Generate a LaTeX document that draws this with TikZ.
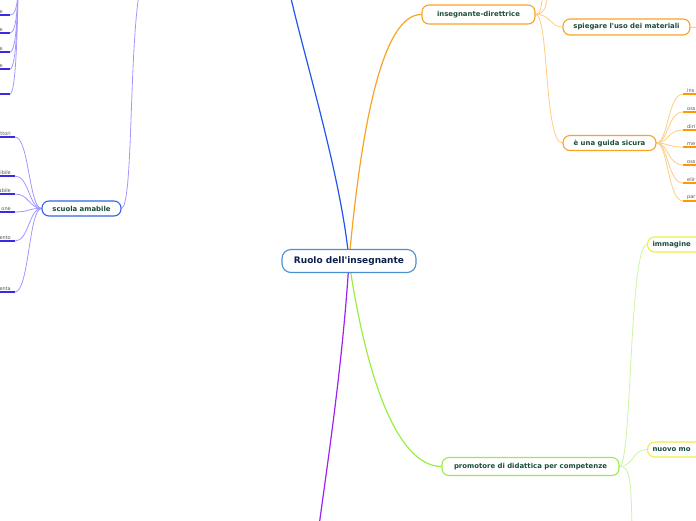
\documentclass[tikz,border=0pt]{standalone}
\usepackage{fontspec}
\newfontfamily\vf{DejaVu Sans}
\usetikzlibrary{backgrounds}
\definecolor{rootblue}{HTML}{4A90D0}
\definecolor{navy}{HTML}{0D1F4D}
\definecolor{nodetext}{HTML}{1A4D3A}
\definecolor{mainblue}{HTML}{2255EE}
\definecolor{mainorange}{HTML}{F7A326}
\definecolor{lightorange}{HTML}{FFCC80}
\definecolor{leaforange}{HTML}{FF9900}
\definecolor{mainpurple}{HTML}{A020F0}
\definecolor{maingreen}{HTML}{99EE44}
\definecolor{lightgreen}{HTML}{CCF59F}
\definecolor{yellowb}{HTML}{F0EE40}
\definecolor{sablue}{HTML}{3366E0}
\definecolor{lightpurple}{HTML}{A397FF}
\definecolor{leafpurple}{HTML}{3B2BE0}
\definecolor{leafgray}{HTML}{555555}
\begin{document}
\begin{tikzpicture}[x=1pt,y=-1pt,
  topic/.style={draw, rounded corners=7pt, line width=1.1pt, fill=white,
    font=\vf\bfseries\fontsize{6.9}{8}\selectfont, text=nodetext, inner sep=0pt},
  leafR/.style={anchor=south west, inner xsep=4pt, inner ysep=1.5pt, text width=20pt, align=left,
    font=\vf\fontsize{5}{5.5}\selectfont, text=leafgray},
  leafL/.style={anchor=south east, inner xsep=4pt, inner ysep=1.5pt, text width=26pt, align=right,
    font=\vf\fontsize{5}{5.5}\selectfont, text=leafgray},
  conn/.style={line width=0.8pt},
]
\useasboundingbox (0,0) rectangle (696,520);
\clip (0,0) rectangle (696,520);

% main nodes
\node[topic, draw=rootblue, text=navy, font=\vf\bfseries\fontsize{9}{10}\selectfont,
  minimum width=134pt, minimum height=23pt, rounded corners=9pt] (root) at (349,261) {Ruolo dell'insegnante};
\node[topic, draw=mainorange, minimum width=113pt, minimum height=19pt] (ind) at (478.5,14.5) {insegnante-direttrice};
\node[topic, draw=mainorange, minimum width=127pt, minimum height=16pt] (spieg) at (626.5,27) {spiegare l'uso dei materiali};
\node[topic, draw=mainorange, minimum width=93pt, minimum height=15pt] (guida) at (609.5,143) {è una guida sicura};
\node[topic, draw=sablue, minimum width=79pt, minimum height=15pt] (scuola) at (81.5,208.5) {scuola amabile};
\node[topic, draw=maingreen, minimum width=177pt, minimum height=18pt] (prom) at (530.5,466.5) {promotore di didattica per competenze};
\node[topic, draw=yellowb, minimum width=100pt, minimum height=15pt, anchor=west,
  text width=90pt, align=left] (imm) at (647,244.5) {immagine};
\node[topic, draw=yellowb, minimum width=100pt, minimum height=15pt, anchor=west,
  text width=90pt, align=left] (nuovo) at (647,449.5) {nuovo mo};

% off-canvas ends
\coordinate (blueEnd) at (290,-6);
\coordinate (purpEnd) at (319,526);
\coordinate (indUp1) at (543,-6);
\coordinate (indUp2) at (548,-6);
\coordinate (spiegEnd) at (705,27);
\coordinate (scuolaUp) at (139,-6);
\coordinate (promDown) at (632,526);
\coordinate (tlParent) at (18,-20);

% right leaves of "è una guida sicura"
\foreach \i/\y/\t in {1/94/ins,2/112/oss,3/130/diri,4/147/me,5/165/oss,6/183/elir,7/201/par}{
  \node[leafR] (r\i) at (683,\y) {\t};
  \draw[leaforange, line width=1.7pt] (r\i.south west) -- (r\i.south east);
}
% left leaves of "scuola amabile"
\foreach \i/\y/\t in {1/137/ttori,2/176/ibile,3/194/abile,4/212/one,5/241/ento,6/292/enta}{
  \node[leafL] (l\i) at (15,\y) {\t};
  \draw[leafpurple, line width=1.7pt] (l\i.south west) -- (l\i.south east);
}
% top-left leaves
\foreach \i/\y in {1/15,2/33,3/52,4/69}{
  \node[leafL, text width=6pt, inner xsep=0pt] (t\i) at (3,\y) {e};
  \draw[leafpurple, line width=1.7pt] ([xshift=-20pt]t\i.south east) -- ([xshift=7pt]t\i.south east);
}
\coordinate (t5) at (10,94);
\draw[leafpurple, line width=1.7pt] (-10,94) -- (t5);

\begin{scope}[on background layer]
  % main branches
  \draw[mainblue, line width=1.2pt] (root.center) .. controls (342,180) and (305,60) .. (blueEnd);
  \draw[mainorange, line width=1.2pt] (root.center) .. controls (360,140) and (380,14) .. (ind.west);
  \draw[maingreen, line width=1.2pt] (root.center) .. controls (365,370) and (395,466) .. (prom.west);
  \draw[mainpurple, line width=1.2pt] (root.center) .. controls (343,360) and (328,460) .. (purpEnd);
  % insegnante-direttrice
  \draw[lightorange, conn] (ind.east) .. controls (541,14) and (541,6) .. (indUp1);
  \draw[lightorange, conn] (ind.east) .. controls (545,14) and (546,6) .. (indUp2);
  \draw[lightorange, conn] (ind.east) .. controls (551,14) and (550,27) .. (spieg.west);
  \draw[lightorange, conn] (ind.east) .. controls (549,14) and (544,143) .. (guida.west);
  \draw[lightorange, conn] (spieg.east) -- (spiegEnd);
  \foreach \i in {1,...,7}{
    \draw[lightorange, conn] (guida.east) .. controls (668,143) and (668,0|-r\i.south west) .. (r\i.south west);
  }
  % scuola amabile
  \draw[lightpurple, conn] (scuola.east) .. controls (133,205) and (129,60) .. (scuolaUp);
  \foreach \i in {1,...,6}{
    \draw[lightpurple, conn] (scuola.west) .. controls (29,208) and (29,0|-l\i.south east) .. (l\i.south east);
  }
  \foreach \i in {1,...,4}{
    \draw[lightpurple, conn] ([xshift=7pt]t\i.south east) .. controls (17,0|-t\i.south east) and (18,0) .. (tlParent);
  }
  \draw[lightpurple, conn] (t5) .. controls (17,94) and (18,0) .. (tlParent);
  % promotore
  \draw[lightgreen, conn] (prom.east) .. controls (632,466) and (629,245) .. (imm.west);
  \draw[lightgreen, conn] (prom.east) .. controls (634,466) and (632,449.5) .. (nuovo.west);
  \draw[lightgreen, conn] (prom.east) .. controls (630,466) and (631,480) .. (promDown);
\end{scope}
\end{tikzpicture}
\end{document}
